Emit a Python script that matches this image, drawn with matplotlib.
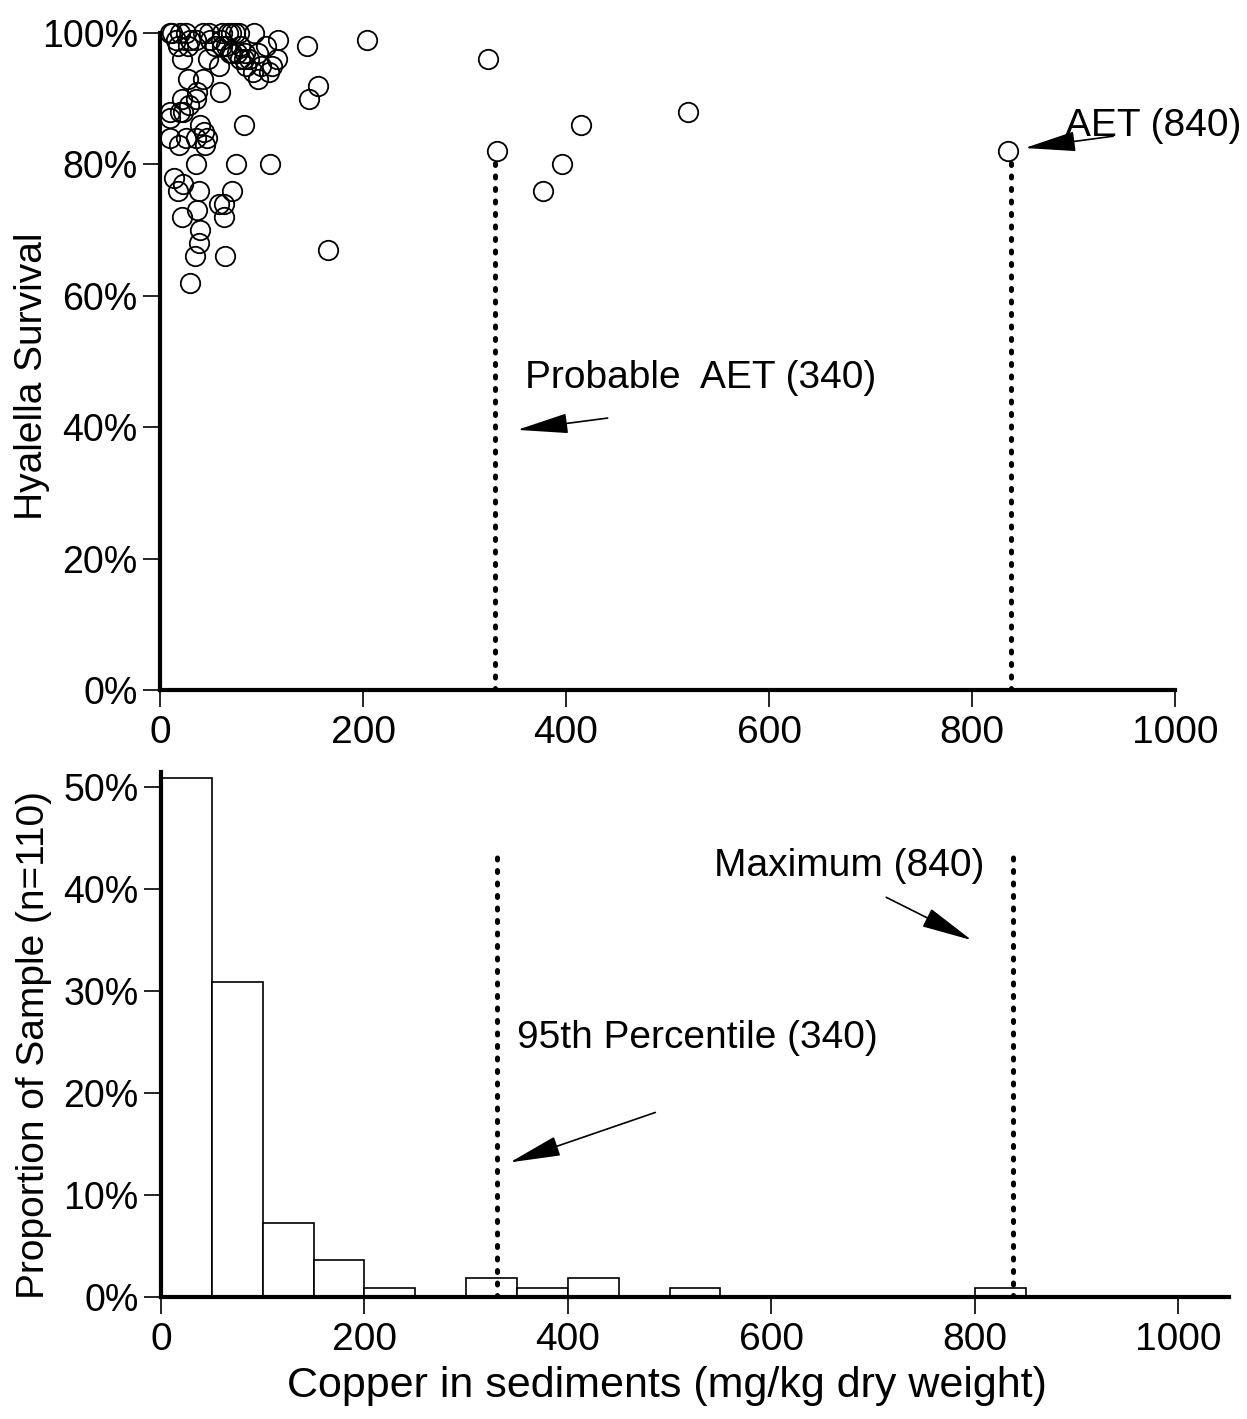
import matplotlib
matplotlib.use('Agg')
import matplotlib.pyplot as plt
from matplotlib.ticker import FuncFormatter
import numpy as np

plt.rcParams['font.family'] = ['Liberation Sans', 'DejaVu Sans']

# copper (mg/kg) vs Hyalella survival (%)
copper = [10, 20, 42, 61, 67, 74, 93, 16, 30, 35, 49, 116, 204, 54, 61, 79, 104, 145,
          71, 84, 97, 22, 47, 79, 83, 115, 323, 85, 100, 107, 110, 28, 42, 97, 156,
          59, 36, 22, 35, 147, 29, 10, 20, 23, 520, 10, 39, 83, 415, 43, 10, 26, 35,
          46, 19, 44, 332, 835, 35, 75, 108, 396, 14, 23, 18, 38, 71, 377, 58, 63,
          36, 22, 63, 39, 38, 166, 34, 64, 30,
          12, 26, 48, 70, 78, 65, 69, 88, 76, 28, 18, 92, 60, 58]
survival = [100, 100, 100, 100, 100, 100, 100, 99, 99, 99, 99, 99, 99, 98, 98, 98, 98, 98,
            97, 97, 97, 96, 96, 96, 96, 96, 96, 95, 95, 94, 95, 93, 93, 93, 92,
            91, 91, 90, 90, 90, 89, 88, 88, 88, 88, 87, 86, 86, 86, 85, 84, 84, 84,
            84, 83, 83, 82, 82, 80, 80, 80, 80, 78, 77, 76, 76, 76, 76, 74, 74,
            73, 72, 72, 70, 68, 67, 66, 66, 62,
            100, 100, 100, 100, 100, 98, 97, 96, 97, 98, 98, 94, 99, 95]

# histogram of copper, 50 mg/kg bins, n = 110
bin_left = [0, 50, 100, 150, 200, 250, 300, 350, 400, 450, 500, 800]
bin_count = [56, 34, 8, 4, 1, 0, 2, 1, 2, 0, 1, 1]
n_total = 110

aet_probable = 330
aet_max = 838

fs = 28
pct = FuncFormatter(lambda v, p: '%d%%' % round(v * 100))

fig = plt.figure(figsize=(12.47, 14.19), dpi=100)
ax1 = fig.add_axes([0.1283, 0.5137, 0.814, 0.463])
ax2 = fig.add_axes([0.1291, 0.0860, 0.8565, 0.370])

for ax in (ax1, ax2):
    for s in ('top', 'right'):
        ax.spines[s].set_visible(False)
    for s in ('left', 'bottom'):
        ax.spines[s].set_linewidth(3)
    ax.tick_params(direction='out', length=12, width=1.2, labelsize=fs, pad=4)
    ax.tick_params(axis='y', labelsize=27)
    ax.tick_params(axis='x', pad=6)
    ax.yaxis.set_major_formatter(pct)

dots = dict(color='k', lw=3.6, linestyle=(0, (0.4, 2.1)), dash_capstyle='round')
arrow = dict(arrowstyle='-|>,head_length=2.3,head_width=0.45', color='k', lw=1.2,
             mutation_scale=14, shrinkA=0, shrinkB=0)

# ---- top: survival scatter ----
ax1.plot(copper, np.array(survival) / 100, 'o', ms=14, mfc='none', mec='k', mew=1.3,
         clip_on=False, zorder=3)
ax1.plot([aet_probable, aet_probable], [0, 0.81], **dots)
ax1.plot([aet_max, aet_max], [0, 0.81], **dots)
ax1.set_xlim(0, 1000)
ax1.set_ylim(0, 1.0)
ax1.set_xticks(range(0, 1001, 200))
ax1.set_yticks(np.arange(0, 1.01, 0.2))
ax1.set_ylabel('Hyalella Survival', fontsize=28)
ax1.yaxis.set_label_coords(-0.108, 0.478)

ax1.annotate('', xy=(352, 0.396), xytext=(441, 0.414), arrowprops=arrow)
ax1.text(360, 0.475, 'Probable  AET (340)', fontsize=28, va='center', ha='left')
ax1.annotate('', xy=(852, 0.825), xytext=(939, 0.843), arrowprops=arrow)
ax1.text(892, 0.858, 'AET (840)', fontsize=28, va='center', ha='left')

# ---- bottom: histogram ----
ax2.bar(bin_left, np.array(bin_count) / n_total, width=50, align='edge',
        facecolor='white', edgecolor='k', lw=1.2)
ax2.plot([aet_probable, aet_probable], [0, 0.438], **dots)
ax2.plot([aet_max, aet_max], [0, 0.433], **dots)
ax2.set_xlim(0, 1050)
ax2.set_ylim(0, 0.515)
ax2.set_xticks(range(0, 1001, 200))
ax2.set_yticks(np.arange(0, 0.51, 0.1))
ax2.set_ylabel('Proportion of Sample (n=110)', fontsize=28)
ax2.yaxis.set_label_coords(-0.102, 0.48)
ax2.set_xlabel('Copper in sediments (mg/kg dry weight)', fontsize=31)
ax2.xaxis.set_label_coords(0.474, -0.132)

ax2.annotate('', xy=(797, 0.350), xytext=(713, 0.392), arrowprops=arrow)
ax2.text(544, 0.4225, 'Maximum (840)', fontsize=28, va='center', ha='left')
ax2.annotate('', xy=(343, 0.132), xytext=(486, 0.181), arrowprops=arrow)
ax2.text(350, 0.254, '95th Percentile (340)', fontsize=28, va='center', ha='left')

fig.savefig('out.png', dpi=100)
